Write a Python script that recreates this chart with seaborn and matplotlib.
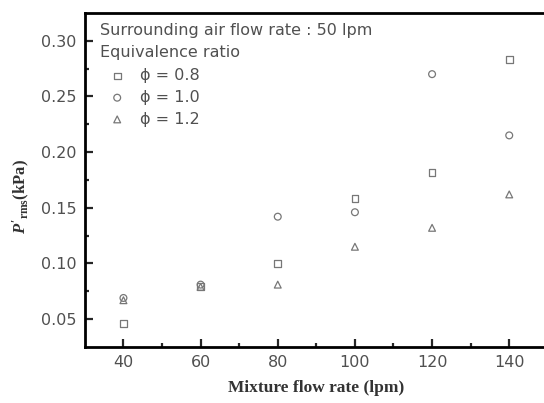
import seaborn as sns
import matplotlib.pyplot as plt
import pandas as pd

# Data
flow_rate = [40, 60, 80, 100, 120, 140]
phi_08 = [0.046, 0.079, 0.100, 0.158, 0.182, 0.283]
phi_10 = [0.069, 0.081, 0.142, 0.146, 0.270, 0.215]
phi_12 = [0.067, 0.079, 0.081, 0.115, 0.132, 0.162]
series_labels = ['\u03d5 = 0.8', '\u03d5 = 1.0', '\u03d5 = 1.2']
markers = ['s', 'o', '^']

df = pd.DataFrame({
    'flow': flow_rate * 3,
    'prms': phi_08 + phi_10 + phi_12,
    'phi': [series_labels[0]] * 6 + [series_labels[1]] * 6 + [series_labels[2]] * 6,
})

sns.set_style('ticks')
plt.rcParams['font.family'] = ['DejaVu Sans']
plt.rcParams['mathtext.fontset'] = 'custom'
plt.rcParams['mathtext.rm'] = 'Liberation Serif:bold'
plt.rcParams['mathtext.it'] = 'Liberation Serif:italic:bold'
plt.rcParams['mathtext.bf'] = 'Liberation Serif:bold'

fig = plt.figure(figsize=(5.44, 4.03), dpi=100)
ax = fig.add_axes([0.156, 0.139, 0.851, 0.829])

gray = '#777777'
txt = '#505050'
for lab, m in zip(series_labels, markers):
    sub = df[df['phi'] == lab]
    sns.scatterplot(data=sub, x='flow', y='prms', marker=m, s=24,
                    facecolors='none', edgecolors=gray, linewidths=0.9,
                    label=lab, ax=ax)

ax.set_xlim(30, 150)
ax.set_ylim(0.025, 0.325)
ax.set_xticks([40, 60, 80, 100, 120, 140])
ax.set_xticks([50, 70, 90, 110, 130], minor=True)
ax.set_yticks([0.05, 0.10, 0.15, 0.20, 0.25, 0.30])
ax.set_yticks([0.075, 0.125, 0.175, 0.225, 0.275], minor=True)
ax.yaxis.set_major_formatter(plt.FormatStrFormatter('%.2f'))
ax.tick_params(which='major', direction='in', length=6, width=1.6,
               labelsize=11.5, labelcolor=txt, pad=6)
ax.tick_params(which='minor', direction='in', length=3, width=1.6)
for sp in ax.spines.values():
    sp.set_linewidth(2)
    sp.set_color('black')

ax.set_xlabel('Mixture flow rate (lpm)', family='Liberation Serif',
              fontweight='bold', fontsize=12.5, color='#333333', labelpad=7)
ax.set_ylabel(r"$P'_{\mathrm{rms}}$(kPa)", family='Liberation Serif',
              fontweight='bold', fontsize=12, color='#333333')
ax.yaxis.set_label_coords(-0.115, 0.45)

ax.text(0.032, 0.947, 'Surrounding air flow rate : 50 lpm', transform=ax.transAxes,
        fontsize=11.5, color=txt, va='center')
ax.text(0.032, 0.880, 'Equivalence ratio', transform=ax.transAxes,
        fontsize=11.5, color=txt, va='center')
leg = ax.legend(loc='upper left', bbox_to_anchor=(0.025, 0.868), frameon=False,
                fontsize=11.5, labelcolor=txt, handlelength=1.2,
                handletextpad=0.8, labelspacing=0.42, borderpad=0.2)

fig.savefig('out.png', dpi=100)
